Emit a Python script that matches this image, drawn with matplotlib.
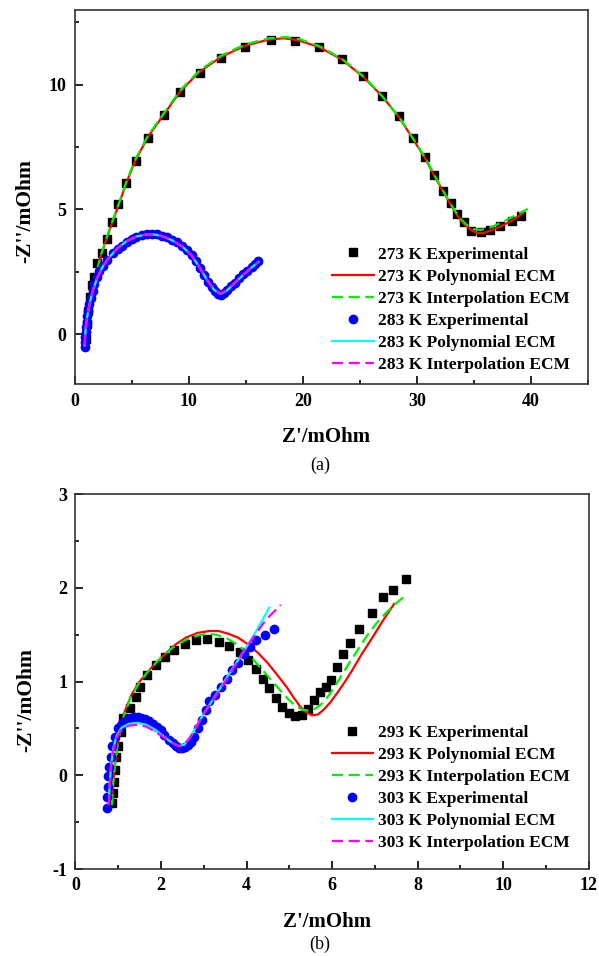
import matplotlib
matplotlib.use("Agg")
import matplotlib.pyplot as plt
from matplotlib.ticker import MultipleLocator

plt.rcParams['font.family'] = ['Liberation Serif', 'DejaVu Serif']
plt.rcParams['axes.unicode_minus'] = False

# ---------------- (a) data ----------------
exp273_x = [0.95, 1.05, 1.15, 1.30, 1.46, 1.72, 1.96, 2.34, 2.79, 3.23, 3.81, 4.49, 5.33, 6.42,
            7.78, 9.24, 10.94, 12.81, 14.92, 17.16, 19.33, 21.41, 23.41, 25.28, 26.91, 28.37,
            29.63, 30.65, 31.50, 32.28, 32.93, 33.54, 34.11, 34.73, 35.58, 36.43, 37.27, 38.29, 39.14]
exp273_y = [-0.20, 0.40, 0.95, 1.50, 1.99, 2.28, 2.86, 3.25, 3.80, 4.48, 5.21, 6.04, 6.95, 7.85,
            8.78, 9.69, 10.47, 11.07, 11.52, 11.79, 11.74, 11.50, 11.03, 10.36, 9.56, 8.72,
            7.86, 7.09, 6.39, 5.72, 5.24, 4.81, 4.48, 4.14, 4.10, 4.17, 4.34, 4.55, 4.75]

poly273_x = [1.5, 1.8, 2.3, 2.8, 3.3, 3.9, 4.5, 5.3, 6.4, 7.8, 9.2, 10.9, 12.8, 14.9, 17.0, 18.3,
             19.5, 21.4, 23.4, 25.3, 26.9, 28.4, 29.6, 30.7, 31.5, 32.3, 33.0, 33.6, 34.2, 34.8,
             35.3, 35.8, 36.4, 37.3, 38.3, 39.3]
poly273_y = [1.7, 2.3, 3.2, 3.85, 4.5, 5.25, 6.05, 6.95, 7.9, 8.8, 9.7, 10.5, 11.1, 11.55, 11.8,
             11.85, 11.78, 11.5, 11.0, 10.3, 9.55, 8.7, 7.85, 7.05, 6.35, 5.7, 5.15, 4.7, 4.38,
             4.15, 4.05, 4.05, 4.15, 4.32, 4.55, 4.85]

interp273_x = [1.6, 1.9, 2.3, 2.8, 3.3, 3.9, 4.5, 5.3, 6.4, 7.8, 9.2, 10.9, 12.8, 14.9, 17.0,
               18.5, 19.7, 21.5, 23.5, 25.4, 27.0, 28.5, 29.7, 30.8, 31.6, 32.4, 33.1, 33.7,
               34.3, 34.9, 35.5, 36.1, 36.8, 37.7, 38.7, 39.7]
interp273_y = [1.9, 2.5, 3.2, 3.9, 4.55, 5.3, 6.1, 7.0, 7.95, 8.85, 9.75, 10.55, 11.15, 11.6,
               11.85, 11.9, 11.82, 11.52, 11.0, 10.28, 9.5, 8.65, 7.8, 7.0, 6.3, 5.65, 5.1,
               4.68, 4.4, 4.22, 4.18, 4.22, 4.35, 4.55, 4.78, 5.02]

exp283_x = [0.86, 0.88, 0.90, 0.94, 0.98, 1.03, 1.09, 1.17, 1.27, 1.40, 1.55, 1.72, 1.92, 2.15,
            2.45, 2.80, 3.36, 3.75, 4.10, 4.55, 4.97, 5.40, 5.85, 6.30, 6.75, 7.20, 7.62, 8.05,
            8.48, 8.92, 9.36, 9.80, 10.24, 10.60, 10.97, 11.33, 11.70, 12.00, 12.30, 12.55,
            12.80, 13.05, 13.31, 13.68, 14.04, 14.40, 14.77, 15.13, 15.50, 15.80, 16.08]
exp283_y = [-0.50, -0.30, -0.10, 0.10, 0.30, 0.50, 0.72, 0.93, 1.20, 1.47, 1.75, 2.02, 2.30, 2.52,
            2.75, 2.98, 3.27, 3.42, 3.55, 3.70, 3.82, 3.91, 3.98, 4.02, 4.03, 4.00, 3.95, 3.88,
            3.79, 3.68, 3.55, 3.38, 3.18, 2.93, 2.66, 2.38, 2.11, 1.90, 1.73, 1.62,
            1.58, 1.64, 1.76, 1.92, 2.07, 2.24, 2.40, 2.54, 2.68, 2.80, 2.92]

poly283_x = [0.86, 0.90, 0.96, 1.05, 1.17, 1.35, 1.60, 1.95, 2.40, 3.00, 3.70, 4.50, 5.40, 6.30,
             6.90, 7.60, 8.50, 9.40, 10.20, 10.90, 11.60, 12.20, 12.75, 13.30, 14.00, 14.80,
             15.50, 16.10]
poly283_y = [-0.45, -0.05, 0.30, 0.62, 0.93, 1.35, 1.78, 2.25, 2.68, 3.08, 3.43, 3.72, 3.92, 4.00,
             4.00, 3.94, 3.77, 3.52, 3.18, 2.70, 2.17, 1.78, 1.62, 1.74, 2.05, 2.40, 2.68, 2.90]

interp283_x = poly283_x
interp283_y = [-0.45, -0.05, 0.30, 0.62, 0.93, 1.35, 1.78, 2.25, 2.68, 3.08, 3.43, 3.72, 3.92,
               4.00, 4.00, 3.94, 3.77, 3.52, 3.18, 2.70, 2.17, 1.78, 1.64, 1.76, 2.06, 2.41,
               2.69, 2.91]

# ---------------- (b) data ----------------
exp293_x = [0.86, 0.88, 0.90, 0.93, 0.95, 1.00, 1.06, 1.12, 1.27, 1.41, 1.51, 1.68, 1.88, 2.09,
            2.31, 2.57, 2.81, 3.08, 3.35, 3.60, 3.85, 4.03, 4.22, 4.38, 4.53, 4.69, 4.83, 4.99,
            5.14, 5.29, 5.44, 5.58, 5.71, 5.85, 5.98, 6.12, 6.26, 6.42, 6.62, 6.94, 7.18, 7.43, 7.73]
exp293_y = [-0.30, -0.19, -0.07, 0.06, 0.20, 0.31, 0.46, 0.61, 0.72, 0.84, 0.94, 1.07, 1.18, 1.26,
            1.34, 1.40, 1.44, 1.45, 1.42, 1.38, 1.32, 1.23, 1.13, 1.03, 0.93, 0.82, 0.73, 0.66,
            0.63, 0.64, 0.71, 0.80, 0.89, 0.94, 1.02, 1.16, 1.29, 1.41, 1.56, 1.73, 1.90, 1.98, 2.10]

poly293_x = [0.85, 0.88, 0.92, 0.97, 1.04, 1.15, 1.31, 1.48, 1.68, 1.90, 2.13, 2.35, 2.58, 2.85,
             3.13, 3.35, 3.58, 3.80, 4.03, 4.26, 4.49, 4.72, 4.94, 5.10, 5.26, 5.40, 5.53, 5.67,
             5.80, 5.96, 6.12, 6.30, 6.48, 6.70, 6.94, 7.20, 7.45]
poly293_y = [-0.30, -0.10, 0.10, 0.28, 0.48, 0.68, 0.86, 0.99, 1.10, 1.21, 1.31, 1.40, 1.47, 1.52,
             1.54, 1.54, 1.51, 1.47, 1.40, 1.31, 1.20, 1.07, 0.94, 0.83, 0.73, 0.67, 0.64, 0.65,
             0.70, 0.78, 0.88, 1.00, 1.13, 1.30, 1.47, 1.66, 1.83]

interp293_x = [0.85, 0.88, 0.92, 0.97, 1.04, 1.15, 1.30, 1.48, 1.68, 1.90, 2.13, 2.35, 2.60, 2.85,
               3.05, 3.30, 3.55, 3.80, 4.05, 4.30, 4.55, 4.80, 5.00, 5.15, 5.30, 5.45, 5.60, 5.75,
               5.90, 6.05, 6.20, 6.40, 6.60, 6.80, 7.03, 7.25, 7.45, 7.75]
interp293_y = [-0.32, -0.10, 0.10, 0.28, 0.46, 0.66, 0.84, 0.98, 1.10, 1.21, 1.31, 1.39, 1.45, 1.49,
               1.51, 1.50, 1.46, 1.39, 1.29, 1.16, 1.03, 0.90, 0.80, 0.74, 0.70, 0.69, 0.71, 0.76,
               0.84, 0.94, 1.05, 1.20, 1.34, 1.48, 1.62, 1.73, 1.82, 1.93]

exp303_x = [0.73, 0.74, 0.75, 0.77, 0.79, 0.82, 0.86, 0.92, 1.00, 1.06, 1.12, 1.20, 1.27, 1.36,
            1.45, 1.54, 1.63, 1.72, 1.81, 1.90, 1.99, 2.08, 2.18, 2.27, 2.36, 2.43, 2.49, 2.56,
            2.63, 2.70, 2.77, 2.86, 2.96, 3.04, 3.13, 3.26, 3.40, 3.54, 3.67, 3.79, 3.94, 4.08,
            4.22, 4.44, 4.65]
exp303_y = [-0.35, -0.23, -0.12, -0.01, 0.09, 0.20, 0.31, 0.41, 0.50, 0.54, 0.57, 0.59, 0.61, 0.62,
            0.62, 0.61, 0.60, 0.58, 0.55, 0.52, 0.48, 0.43, 0.38, 0.34, 0.31, 0.29, 0.29, 0.30,
            0.32, 0.36, 0.41, 0.51, 0.59, 0.70, 0.79, 0.86, 0.94, 1.03, 1.12, 1.20, 1.30, 1.37,
            1.44, 1.50, 1.56]

poly303_x = [0.78, 0.80, 0.83, 0.88, 0.96, 1.08, 1.25, 1.45, 1.65, 1.85, 2.05, 2.25, 2.42, 2.55,
             2.70, 2.85, 3.00, 3.30, 3.60, 3.90, 4.20, 4.53]
poly303_y = [-0.30, -0.10, 0.10, 0.28, 0.42, 0.51, 0.55, 0.56, 0.54, 0.49, 0.42, 0.35, 0.31, 0.33,
             0.42, 0.54, 0.66, 0.87, 1.09, 1.30, 1.52, 1.79]

interp303_x = [0.78, 0.80, 0.83, 0.88, 0.96, 1.08, 1.25, 1.45, 1.65, 1.85, 2.05, 2.25, 2.42, 2.55,
               2.70, 2.85, 3.00, 3.30, 3.60, 3.90, 4.20, 4.45, 4.80]
interp303_y = [-0.32, -0.12, 0.08, 0.26, 0.40, 0.49, 0.53, 0.54, 0.52, 0.47, 0.41, 0.35, 0.31, 0.33,
               0.42, 0.54, 0.66, 0.86, 1.07, 1.30, 1.50, 1.66, 1.82]

labels_a = ['273 K Experimental', '273 K Polynomial ECM', '273 K Interpolation ECM',
            '283 K Experimental', '283 K Polynomial ECM', '283 K Interpolation ECM']
labels_b = ['293 K Experimental', '293 K Polynomial ECM', '293 K Interpolation ECM',
            '303 K Experimental', '303 K Polynomial ECM', '303 K Interpolation ECM']

fig = plt.figure(figsize=(5.99, 9.56), dpi=100)
ax1 = fig.add_axes([0.125, 0.598, 0.857, 0.392])
ax2 = fig.add_axes([0.126, 0.091, 0.857, 0.392])

def draw(ax, ex1, ey1, px1, py1, ix1, iy1, ex2, ey2, px2, py2, ix2, iy2, labels):
    ax.plot(ex1, ey1, 's', color='black', ms=5.4, ls='none', label=labels[0])
    ax.plot(px1, py1, '-', color='#ff0000', lw=1.6, label=labels[1])
    ax.plot(ix1, iy1, '--', color='#00ee00', lw=1.6, dashes=(5, 2.5), label=labels[2])
    ax.plot(ex2, ey2, 'o', color='#0000ff', ms=6.0, ls='none', label=labels[3])
    ax.plot(px2, py2, '-', color='#00ffff', lw=1.6, label=labels[4])
    ax.plot(ix2, iy2, '--', color='#ff00ff', lw=1.6, dashes=(5, 2.5), label=labels[5])

draw(ax1, exp273_x, exp273_y, poly273_x, poly273_y, interp273_x, interp273_y,
     exp283_x, exp283_y, poly283_x, poly283_y, interp283_x, interp283_y, labels_a)
draw(ax2, exp293_x, exp293_y, poly293_x, poly293_y, interp293_x, interp293_y,
     exp303_x, exp303_y, poly303_x, poly303_y, interp303_x, interp303_y, labels_b)

ax1.set_xlim(0, 45)
ax1.set_ylim(-2, 13)
ax1.xaxis.set_major_locator(MultipleLocator(10))
ax1.xaxis.set_minor_locator(MultipleLocator(5))
ax1.yaxis.set_major_locator(MultipleLocator(5))
ax1.yaxis.set_minor_locator(MultipleLocator(2.5))

ax2.set_xlim(0, 12)
ax2.set_ylim(-1, 3)
ax2.xaxis.set_major_locator(MultipleLocator(2))
ax2.xaxis.set_minor_locator(MultipleLocator(1))
ax2.yaxis.set_major_locator(MultipleLocator(1))
ax2.yaxis.set_minor_locator(MultipleLocator(0.5))

for ax, legy, legx, ylab_y in [(ax1, 0.368, 0.501, 0.463), (ax2, 0.385, 0.499, 0.45)]:
    for s in ax.spines.values():
        s.set_linewidth(1.2)
        s.set_color('#333333')
    ax.tick_params(which='both', direction='in', top=False, right=False, width=1.2)
    ax.tick_params(which='major', length=6, labelsize=13, pad=6)
    ax.tick_params(which='minor', length=3)
    for lab in ax.get_xticklabels() + ax.get_yticklabels():
        lab.set_fontweight('bold')
    ax.set_xlabel("Z'/mOhm", fontsize=15, fontweight='bold')
    ax.set_ylabel("-Z''/mOhm", fontsize=15.5, fontweight='bold')
    ax.xaxis.set_label_coords(0.49, -0.115)
    ax.yaxis.set_label_coords(-0.077, ylab_y)
    ax.legend(loc='upper left', bbox_to_anchor=(legx, legy), frameon=False,
              prop={'weight': 'bold', 'size': 12.5}, borderpad=0, borderaxespad=0,
              handlelength=2.4, handletextpad=0.25, labelspacing=0.34, markerscale=1.0)

fig.text(320 / 599, 1 - 465 / 956, '(a)', ha='center', va='center', fontsize=13)
fig.text(320 / 599, 1 - 944 / 956, '(b)', ha='center', va='center', fontsize=13)

fig.savefig('out.png', dpi=100)
